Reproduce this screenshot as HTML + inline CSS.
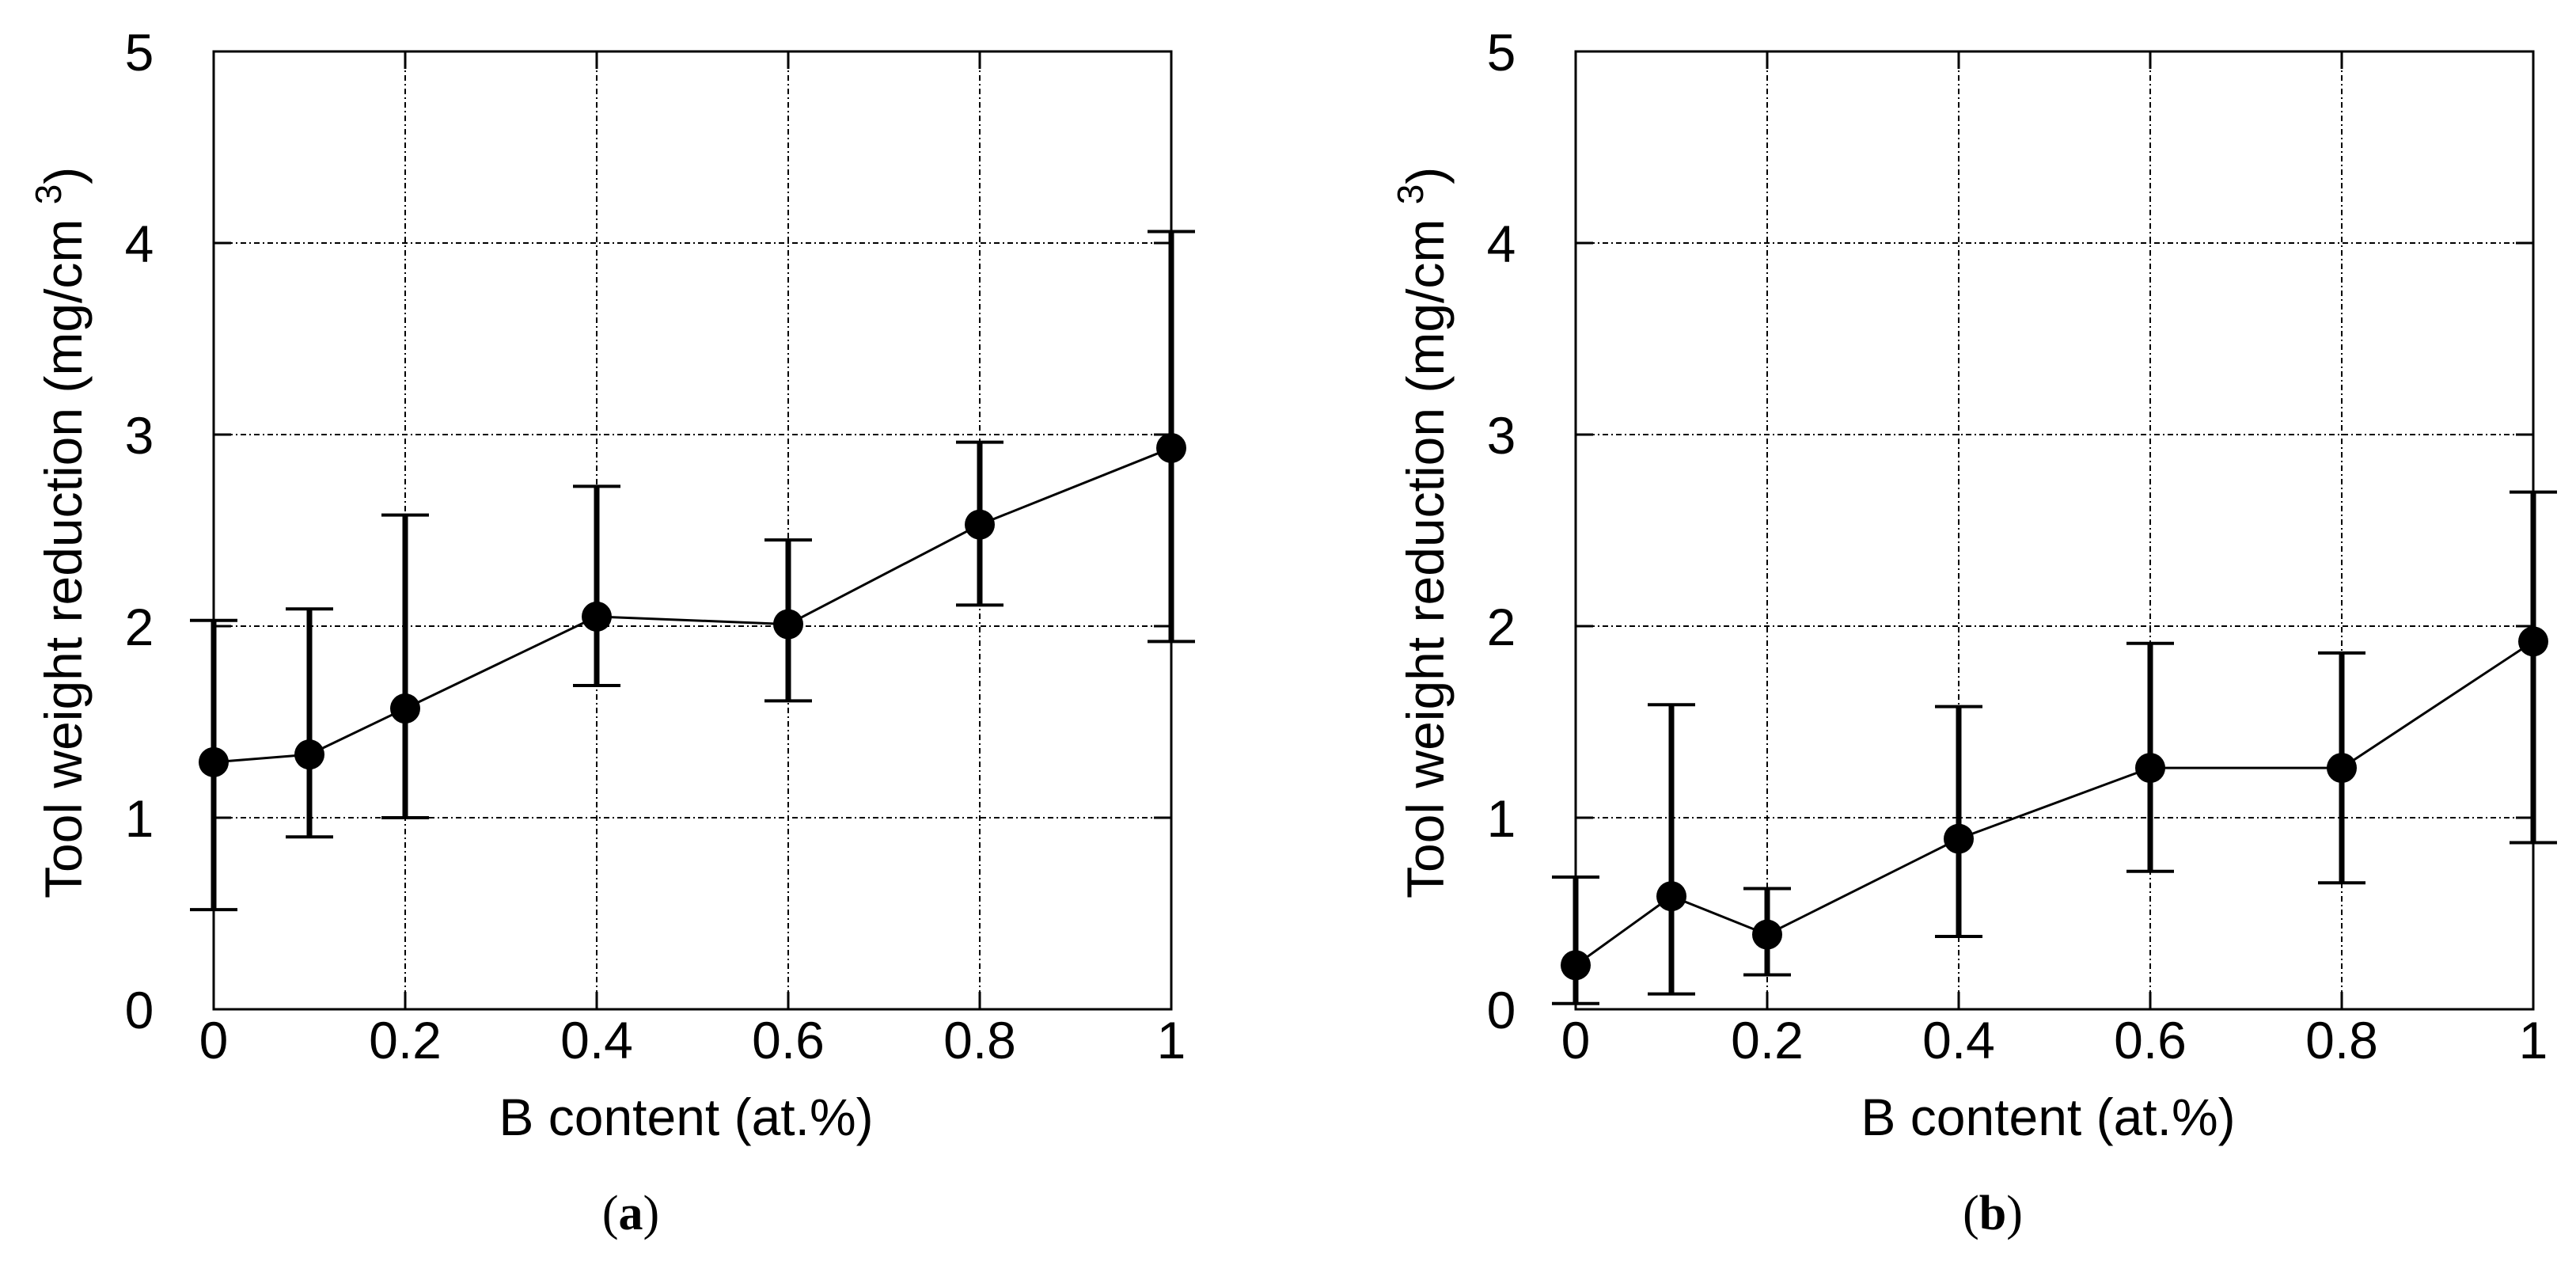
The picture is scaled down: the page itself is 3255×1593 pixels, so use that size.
<!DOCTYPE html>
<html><head><meta charset="utf-8"><style>
html,body{margin:0;padding:0;background:#fff;}
svg{display:block;font-family:"Liberation Sans",sans-serif;}
</style></head><body>
<svg id="fig" width="3255" height="1593" viewBox="0 0 3255 1593" xmlns="http://www.w3.org/2000/svg"></svg>
<script>
const xCats = [0, 0.1, 0.2, 0.4, 0.6, 0.8, 1];
const xTicks = [0, 0.2, 0.4, 0.6, 0.8, 1];
const xTickLabels = ["0", "0.2", "0.4", "0.6", "0.8", "1"];
const yTicks = [0, 1, 2, 3, 4, 5];
const meanA = [1.29, 1.33, 1.57, 2.05, 2.01, 2.53, 2.93];
const lowA  = [0.52, 0.90, 1.00, 1.69, 1.61, 2.11, 1.92];
const highA = [2.03, 2.09, 2.58, 2.73, 2.45, 2.96, 4.06];
const meanB = [0.23, 0.59, 0.39, 0.89, 1.26, 1.26, 1.92];
const lowB  = [0.03, 0.08, 0.18, 0.38, 0.72, 0.66, 0.87];
const highB = [0.69, 1.59, 0.63, 1.58, 1.91, 1.86, 2.70];

const NS = "http://www.w3.org/2000/svg";
const svg = document.getElementById("fig");
function mk(tag, attrs, parent){
  const e = document.createElementNS(NS, tag);
  for (const k in attrs) e.setAttribute(k, attrs[k]);
  (parent||svg).appendChild(e);
  return e;
}
function panel(id, x0, mean, low, high, caption){
  const X = v => x0 + v * 1210;
  const Y = v => 1275 - v * 242;
  const g = mk("g", {});
  
  
  // gridlines
  yTicks.forEach(t => {
    if (t === 0 || t === 5) return;
    const l = mk("line", {x1: X(0), x2: X(1), y1: Y(t), y2: Y(t), stroke: "#000", "stroke-width": 2, "stroke-dasharray": "7,4,2,4"}, g);
    
    
  });
  xTicks.forEach(t => {
    if (t === 0 || t === 1) return;
    const l = mk("line", {x1: X(t), x2: X(t), y1: Y(0), y2: Y(5), stroke: "#000", "stroke-width": 2, "stroke-dasharray": "7,4,2,4"}, g);
    
    
  });
  // frame
  const fr = mk("rect", {x: X(0), y: Y(5), width: X(1) - X(0), height: Y(0) - Y(5), fill: "none", stroke: "#000", "stroke-width": 3}, g);
  
  
  // tick marks
  yTicks.forEach(t => {
    const a = mk("line", {x1: X(0), x2: X(0) + 22, y1: Y(t), y2: Y(t), stroke: "#000", "stroke-width": 3}, g);
    
    
    const b = mk("line", {x1: X(1), x2: X(1) - 22, y1: Y(t), y2: Y(t), stroke: "#000", "stroke-width": 3}, g);
    
    
    const tx = mk("text", {x: X(0) - 94, y: Y(t) + 24, "font-size": 66, "text-anchor": "middle"}, g);
    tx.textContent = String(t);
    
    
  });
  xTicks.forEach((t, i) => {
    const a = mk("line", {x1: X(t), x2: X(t), y1: Y(0), y2: Y(0) - 22, stroke: "#000", "stroke-width": 3}, g);
    
    
    const b = mk("line", {x1: X(t), x2: X(t), y1: Y(5), y2: Y(5) + 22, stroke: "#000", "stroke-width": 3}, g);
    
    
    const tx = mk("text", {x: X(t), y: 1337, "font-size": 66, "text-anchor": "middle"}, g);
    tx.textContent = xTickLabels[i];
    
    
  });
  // line
  const pl = mk("polyline", {points: xCats.map((c, i) => X(c) + "," + Y(mean[i])).join(" "), fill: "none", stroke: "#000", "stroke-width": 3}, g);
  
  
  // error bars + markers
  xCats.forEach((c, i) => {
    const eb = mk("line", {x1: X(c), x2: X(c), y1: Y(low[i]), y2: Y(high[i]), stroke: "#000", "stroke-width": 7}, g);
    
    
    [low[i], high[i]].forEach(v => {
      const cap = mk("line", {x1: X(c) - 30, x2: X(c) + 30, y1: Y(v), y2: Y(v), stroke: "#000", "stroke-width": 4}, g);
      
      
    });
    const m = mk("circle", {cx: X(c), cy: Y(mean[i]), r: 19, fill: "#000"}, g);
    
    
  });
  // titles
  const xt = mk("text", {x: x0 + 597, y: 1434, "font-size": 66, "text-anchor": "middle"}, g);
  xt.textContent = "B content (at.%)";
  
  
  const yt = mk("text", {x: 0, y: 0, "font-size": 66, transform: "translate(" + (x0 - 167) + ",1135) rotate(-90)"}, g);
  
  
  const t1 = mk("tspan", {}, yt); t1.textContent = "Tool weight reduction (mg/cm ";
  const t2 = mk("tspan", {dy: -26, "font-size": 46}, yt); t2.textContent = "3";
  const t3 = mk("tspan", {dy: 26}, yt); t3.textContent = ")";
  const cp = mk("text", {x: x0 + 527, y: 1553, "font-size": 62, "text-anchor": "middle", "font-family": "Liberation Serif, serif"}, g);
  
  
  const c1 = mk("tspan", {}, cp); c1.textContent = "(";
  const c2 = mk("tspan", {"font-weight": "bold"}, cp); c2.textContent = caption;
  const c3 = mk("tspan", {}, cp); c3.textContent = ")";
}
panel("a", 270, meanA, lowA, highA, "a");
panel("b", 1991, meanB, lowB, highB, "b");
</script>
</body></html>
